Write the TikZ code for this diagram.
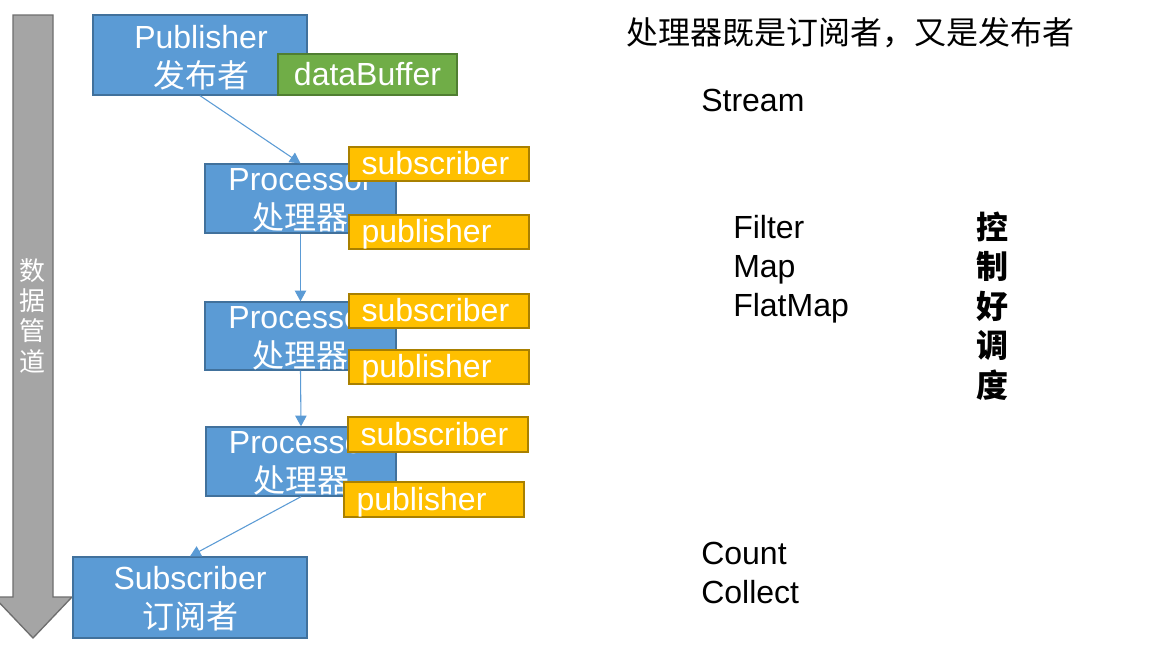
\documentclass[tikz,border=0pt]{standalone}
\usepackage{fontspec}
\setmainfont{Liberation Sans}
\newfontfamily\cjk{Noto Sans CJK SC}
\usetikzlibrary{arrows.meta,calc}
\definecolor{bfill}{HTML}{5B9BD5}
\definecolor{bdraw}{HTML}{41719C}
\definecolor{yfill}{HTML}{FFC000}
\definecolor{ydraw}{HTML}{A98000}
\definecolor{gfill}{HTML}{70AD47}
\definecolor{gdraw}{HTML}{507E32}
\definecolor{pipefill}{HTML}{A5A5A5}
\definecolor{pipedraw}{HTML}{6E6E6E}
\tikzset{
  boxbase/.style={draw, line width=1pt, inner sep=0pt, minimum width={#1*0.75pt}},
  bluebox/.style={boxbase=#1, fill=bfill, draw=bdraw},
  yelbox/.style={boxbase=#1, fill=yfill, draw=ydraw},
  grnbox/.style={boxbase=#1, fill=gfill, draw=gdraw},
  bigtxt/.style={font=\fontsize{24}{29.25}\selectfont, inner sep=0pt},
  whitetxt/.style={bigtxt, text=white, align=center, anchor=base},
  tagtxt/.style={bigtxt, text=white, anchor=base west},
  flow/.style={draw=bfill, line width=0.8pt, -{Triangle[length=8pt,width=8.5pt]}},
  plaintxt/.style={bigtxt, text=black, align=left, anchor=base west},
}
\begin{document}
\begin{tikzpicture}[x=0.75pt,y=-0.75pt]
\useasboundingbox (0,0) rectangle (1158,646);
\fill[white] (0,0) rectangle (1158,646);

% data pipeline arrow
\draw[fill=pipefill, draw=pipedraw, line width=1pt]
  (13,15) -- (53,15) -- (53,597) -- (72,597) -- (33,638) -- (-6,597) -- (13,597) -- cycle;
\node[text=white, inner sep=0pt, align=center, anchor=base,
      font=\cjk\fontsize{19.5}{22.7}\selectfont] (pipe) at (33,371) {数\\据\\管\\道};

% blue boxes
\node[bluebox=214, minimum height={80*0.75pt}] (pub) at (200,55) {};
\node[bluebox=191, minimum height={69*0.75pt}] (pr1) at (300.5,198.5) {};
\node[bluebox=191, minimum height={68*0.75pt}] (pr2) at (300.5,336) {};
\node[bluebox=190, minimum height={69*0.75pt}] (pr3) at (301,461.5) {};
\node[bluebox=234, minimum height={81*0.75pt}] (sub) at (190,597.5) {};

\node[whitetxt] (pubt) at ($(pub.center)+(1,32)$) {Publisher\\{\cjk 发布者}};
\node[whitetxt] (pr1t) at ($(pr1.center)+(0,31)$) {Processor\\{\cjk 处理器}};
\node[whitetxt] (pr2t) at ($(pr2.center)+(0,31)$) {Processor\\{\cjk 处理器}};
\node[whitetxt] (pr3t) at ($(pr3.center)+(0,31)$) {Processor\\{\cjk 处理器}};
\node[whitetxt] (subt) at ($(sub.center)+(0,31)$) {Subscriber\\{\cjk 订阅者}};

% connectors
\draw[flow] (pub.south) -- (pr1.north);
\draw[flow] (pr1.south) -- (pr2.north);
\draw[flow] (pr2.south) -- (pr3.north);
\draw[flow] (pr3.south) -- (sub.north);

% green / yellow tags
\node[grnbox=179, minimum height={41*0.75pt}] (buf) at (367.5,74.5) {};
\node[bigtxt, text=white] (buft) at (buf.center) {dataBuffer};

\node[yelbox=180, minimum height={34*0.75pt}] (s1) at (439,164) {};
\node[yelbox=180, minimum height={34*0.75pt}] (p1) at (439,232) {};
\node[yelbox=180, minimum height={34*0.75pt}] (s2) at (439,311) {};
\node[yelbox=180, minimum height={34*0.75pt}] (p2) at (439,367) {};
\node[yelbox=180, minimum height={35*0.75pt}] (s3) at (438,434.5) {};
\node[yelbox=180, minimum height={35*0.75pt}] (p3) at (434,499.5) {};

\node[tagtxt] (s1t) at ($(s1.west)+(13,10.5)$) {subscriber};
\node[tagtxt] (p1t) at ($(p1.west)+(13,10.5)$) {publisher};
\node[tagtxt] (s2t) at ($(s2.west)+(13,10.5)$) {subscriber};
\node[tagtxt] (p2t) at ($(p2.west)+(13,10.5)$) {publisher};
\node[tagtxt] (s3t) at ($(s3.west)+(13,10.5)$) {subscriber};
\node[tagtxt] (p3t) at ($(p3.west)+(13,10.5)$) {publisher};

% right-hand texts
\node[bigtxt, anchor=base west, font=\cjk\fontsize{24}{29}\selectfont] (title) at (626,45) {处理器既是订阅者，又是发布者};
\node[plaintxt] (stream) at (701,111) {Stream};
\node[plaintxt] (ops) at (733,316) {Filter\\Map\\FlatMap};
\node[plaintxt, font=\fontsize{24}{28.6}\selectfont] (term) at (701,603) {Count\\Collect};
\node[inner sep=0pt, align=center, anchor=base, font=\cjk\bfseries\fontsize{24}{29.6}\selectfont] (ctrl) at (992,397) {控\\制\\好\\调\\度};
\end{tikzpicture}
\end{document}
